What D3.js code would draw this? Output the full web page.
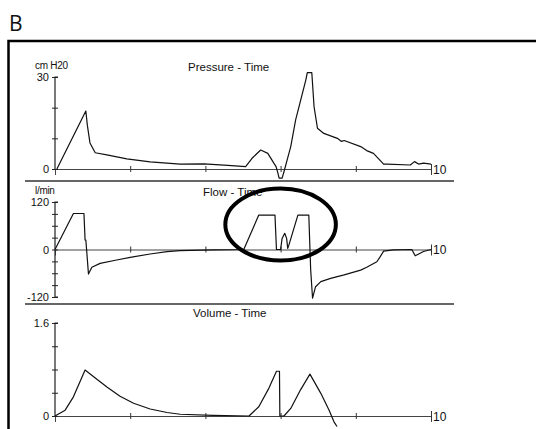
<!DOCTYPE html>
<html>
<head>
<meta charset="utf-8">
<script src="https://cdn.jsdelivr.net/npm/d3@7"></script>
<style>
  body { margin: 0; background: #fff; }
  svg { display: block; }
  text { font-family: "Liberation Sans", Arial, sans-serif; fill: #111; }
</style>
</head>
<body>
<div id="chart-container"></div>
<script>
// time axis (seconds), 0..10, ticks every 2
const timeTicks = [0, 2, 4, 6, 8, 10];

// Pressure - Time (cm H2O)
const pressureT = [0.05, 0.82, 0.86, 0.93, 1.07, 1.38, 1.91, 2.53, 3.33, 3.96, 4.6, 5.07, 5.24, 5.47, 5.66, 5.82, 5.88, 5.93, 5.96, 6.04, 6.09, 6.18, 6.27, 6.4, 6.67, 6.71, 6.83, 6.89, 6.98, 7.15, 7.51, 7.62, 7.69, 8.13, 8.29, 8.47, 8.74, 8.83, 9.45, 9.56, 9.67, 9.8, 10];
const pressureV = [0, 18.9, 14.3, 8.5, 5.3, 4.6, 3.3, 2.3, 1.6, 1.7, 1.2, 0.8, 3.5, 6.2, 5.1, 1.9, 0.8, -1.4, -3.0, -3.0, -0.9, 3.2, 7.3, 16, 29, 31.4, 31.4, 20.3, 13.3, 11.6, 10, 9.0, 9.3, 7.3, 6.0, 5.1, 1.6, 1.6, 1.3, 2.4, 1.6, 1.9, 1.6];
const pressureTicks = [0, 10, 20, 30];

// Flow - Time (l/min)
const flowT = [0, 0.49, 0.77, 0.8, 0.82, 0.84, 0.89, 0.98, 1.2, 1.64, 2.0, 2.53, 2.98, 3.33, 4.2, 5.02, 5.42, 5.85, 5.89, 6.0, 6.04, 6.11, 6.16, 6.19, 6.22, 6.46, 6.75, 6.8, 6.85, 6.93, 7.07, 7.33, 7.69, 8.13, 8.29, 8.56, 8.65, 8.74, 9.0, 9.49, 9.58, 9.8, 10];
const flowV = [0, 91, 91, 24, 24, 0, -62, -45, -35, -26.5, -19.7, -11.4, -5.5, -3, -1, 0, 87, 87, 0, 0, 28, 41, 28, 3, 11, 87, 87, -52, -123, -94, -81, -73, -64, -52, -45, -31, -18, -4, -1, 0, -16, -5, 0];
const flowTicks = [-120, -90, -60, -30, 0, 30, 60, 90, 120];

// Volume - Time (l)
const volumeT = [0, 0.27, 0.49, 0.8, 1.02, 1.38, 1.73, 2.09, 2.53, 2.98, 3.33, 4.2, 5.16, 5.42, 5.69, 5.89, 5.97, 5.98, 6.09, 6.27, 6.53, 6.78, 7.07, 7.29, 7.42, 7.5];
const volumeV = [0, 0.1, 0.33, 0.79, 0.68, 0.5, 0.34, 0.22, 0.12, 0.06, 0.03, 0.01, 0, 0.16, 0.48, 0.77, 0.77, 0, 0, 0.13, 0.45, 0.72, 0.39, 0.1, -0.1, -0.18];
const volumeTicks = [0, 0.4, 0.8, 1.2, 1.6];

// circled region on the flow trace: centre (t, flow) and radii
const circleMark = {t: 6.0, f: 63, dt: 1.47, df: 91};

const W = 536, H = 429;

const svg = d3.select("#chart-container")
  .append("svg")
  .attr("width", W)
  .attr("height", H);

// panel label + frame
svg.append("text")
  .attr("x", 9).attr("y", 31)
  .style("font-family", "'Open Sans', 'Liberation Sans', sans-serif")
  .style("font-size", "21px")
  .text("B");

svg.append("path")
  .attr("d", "M8.5,430 V41 H540")
  .attr("fill", "none")
  .attr("stroke", "#000")
  .attr("stroke-width", 2.5);

const x = d3.scaleLinear().domain([0, 10]).range([55, 431]);
const yP = d3.scaleLinear().domain([0, 30]).range([169, 77]);
const yF = d3.scaleLinear().domain([-120, 120]).range([297, 202]);
const yV = d3.scaleLinear().domain([0, 1.6]).range([416, 323]);

// separators between panels
[181, 304].forEach(yy => {
  svg.append("line")
    .attr("x1", 25).attr("x2", 454)
    .attr("y1", yy).attr("y2", yy)
    .attr("stroke", "#333")
    .attr("stroke-width", 1.4);
});

function drawPanel(y, ticks, labelled, unit, title, titleX, T, V, bottomSerif) {
  const g = svg.append("g");

  // time axis at value 0
  const xa = g.append("g")
    .attr("transform", `translate(0,${y(0)})`)
    .call(d3.axisBottom(x).tickValues(timeTicks.slice(1)).tickSize(6).tickFormat(""));
  xa.select(".domain").attr("stroke", "#444");
  xa.selectAll(".tick line").attr("y1", -3).attr("y2", 3).attr("stroke", "#333");
  xa.selectAll(".tick").filter(d => d === 10).select("line").attr("y1", -5).attr("y2", 4);
  g.append("text")
    .attr("x", x(10) + 2).attr("y", y(0) + 4.5)
    .style("font-size", "12px")
    .text("10");

  // value axis
  const ya = g.append("g")
    .attr("transform", `translate(${x(0)},0)`)
    .call(d3.axisLeft(y).tickValues(ticks).tickSize(6).tickPadding(0)
      .tickFormat(d => labelled.includes(d) ? String(d) : ""));
  ya.select(".domain").remove();
  ya.selectAll(".tick line").attr("x1", -3).attr("x2", 3).attr("stroke", "#222");
  ya.selectAll(".tick text").attr("x", -6).style("font-size", "11px").style("fill", "#111");
  const top = y(ticks[ticks.length - 1]);
  const bot = bottomSerif ? y(ticks[0]) : y(0) + 1;
  let d = `M${x(0) + 3},${top} H${x(0)} V${bot}`;
  if (bottomSerif) d += ` H${x(0) + 3}`;
  g.append("path").attr("d", d).attr("fill", "none").attr("stroke", "#222").attr("stroke-width", 1.2);

  if (unit) {
    g.append("text")
      .attr("x", 35).attr("y", top - 8)
      .style("font-size", "10px")
      .style("letter-spacing", "-0.3px")
      .text(unit);
  }

  g.append("text")
    .attr("x", titleX).attr("y", top - 6)
    .style("font-size", "11.5px")
    .text(title);

  const line = d3.line()
    .x((d, i) => x(T[i]))
    .y(d => y(d));

  g.append("path")
    .datum(V)
    .attr("fill", "none")
    .attr("stroke", "#111")
    .attr("stroke-width", 1.2)
    .attr("stroke-linejoin", "round")
    .attr("d", line);
}

drawPanel(yP, pressureTicks, [0, 30], "cm H20", "Pressure - Time", 188, pressureT, pressureV, false);
drawPanel(yF, flowTicks, [-120, 0, 120], "l/min", "Flow - Time", 203, flowT, flowV, true);
drawPanel(yV, volumeTicks, [0, 1.6], null, "Volume - Time", 193, volumeT, volumeV, false);

// the circled region
svg.append("ellipse")
  .attr("cx", x(circleMark.t))
  .attr("cy", yF(circleMark.f))
  .attr("rx", x(circleMark.t + circleMark.dt) - x(circleMark.t))
  .attr("ry", yF(circleMark.f) - yF(circleMark.f + circleMark.df))
  .attr("fill", "none")
  .attr("stroke", "#000")
  .attr("stroke-width", 4);
</script>
</body>
</html>
